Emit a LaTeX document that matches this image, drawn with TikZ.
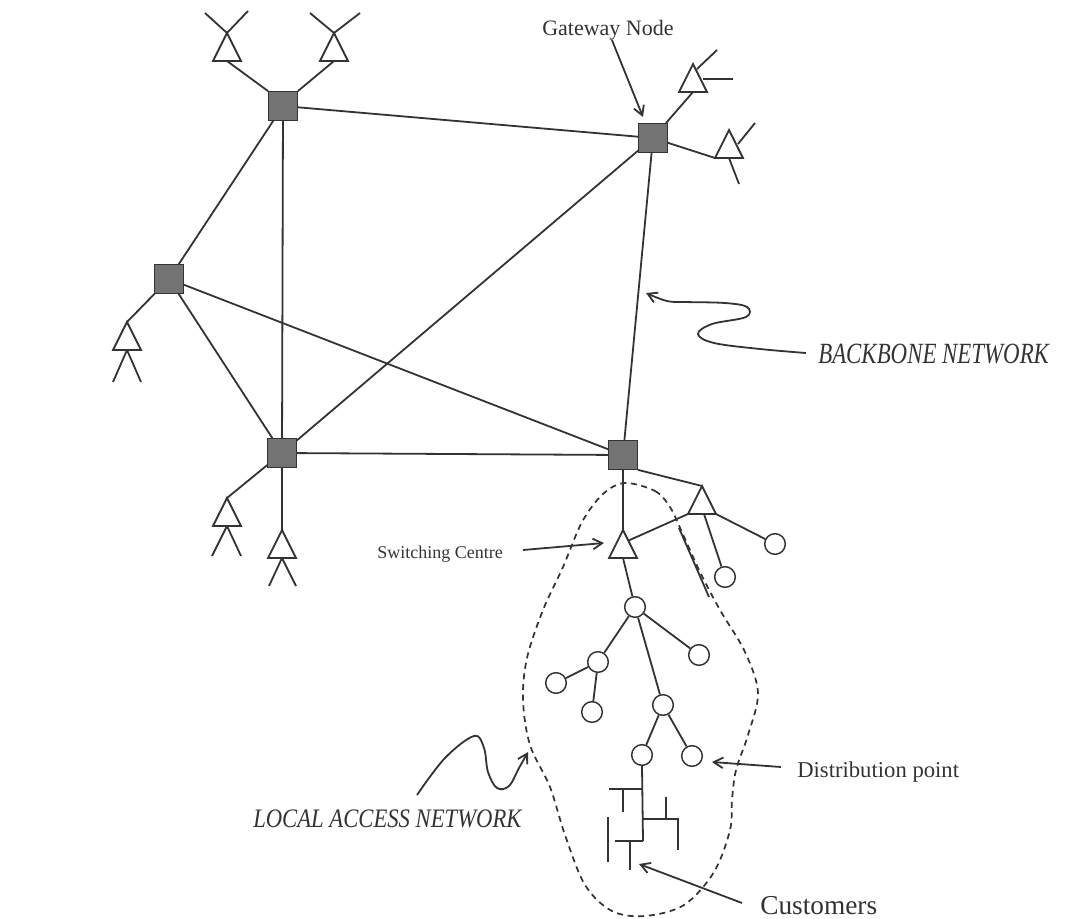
\documentclass[tikz,border=0pt]{standalone}
\usepackage{fontspec}
\usepackage{graphicx}
\setmainfont{Liberation Serif}
\usetikzlibrary{arrows.meta,calc}
\definecolor{ink}{HTML}{333333}
\definecolor{sqfill}{HTML}{737373}
\tikzset{
  sq/.style={draw=ink, fill=sqfill, minimum size=21.5pt, inner sep=0pt, line width=0.8pt},
  dp/.style={circle, draw=ink, fill=white, minimum size=15.5pt, inner sep=0pt, line width=1.1pt},
  ln/.style={draw=ink, line width=1.35pt},
  arr/.style={ln, -{Straight Barb[length=7pt,width=8pt]}},
  bound/.style={draw=ink, line width=1.3pt, dash pattern=on 4.5pt off 3.5pt},
  lab/.style={inner sep=0pt, text=ink},
  tri/.pic={\draw[ln, fill=white] (0,0) coordinate (-apex) -- (-14,28) coordinate (-bl)
      -- (14,28) coordinate (-br) -- cycle; \coordinate (-base) at (0,28);},
}
\begin{document}
\begin{tikzpicture}[x=0.75pt,y=-0.75pt]
\useasboundingbox (0,0) rectangle (1068,918);

% ---------- local access boundary ----------
\draw[bound] plot[smooth cycle, tension=0.55] coordinates {
 (625,483) (655,491) (670,507) (681,530) (700,572) (720,610) (745,652) (758,693)
 (748,735) (736,770) (732,800) (730,830) (714,872) (684,905) (645,916) (612,911)
 (585,885) (565,835) (550,787) (530,745) (523,700) (527,658) (543,610) (563,567)
 (582,522) (603,494)};
\coordinate (s1) at (679,528);
\coordinate (s2) at (709,597);
\draw[ln] (s1) -- (s2);

% ---------- backbone switching nodes ----------
\node[sq] (A)  at (283,106) {};
\node[sq] (G)  at (653,138) {};
\node[sq] (L)  at (169,279) {};
\node[sq] (B1) at (282,453) {};
\node[sq] (B2) at (623,455) {};

\draw[ln] (A) -- (G);
\draw[ln] (A) -- (L);
\draw[ln] (A) -- (B1);
\draw[ln] (L) -- (B1);
\draw[ln] (L) -- (B2);
\draw[ln] (B1) -- (G);
\draw[ln] (B1) -- (B2);
\draw[ln] (G) -- (B2);

% ---------- antennas / triangles ----------
\pic (t1) at (227,33) {tri};
\pic (t2) at (334,33) {tri};
\pic (t3) at (693,64) {tri};
\pic (t4) at (729,130) {tri};
\pic (tL) at (127,322) {tri};
\pic (tB1) at (227,498) {tri};
\pic (tB2) at (282,530) {tri};
\pic (tS) at (623,530) {tri};
\pic (tT) at (702,486) {tri};

\coordinate (a1) at (205,13);  \coordinate (a2) at (248,11);
\coordinate (a3) at (310,13);  \coordinate (a4) at (360,13);
\coordinate (a5) at (697,69);  \coordinate (a6) at (717,50);
\coordinate (a7) at (703,79);  \coordinate (a8) at (733,79);
\coordinate (a9) at (738,144); \coordinate (a10) at (755,123);
\coordinate (a11) at (739,184);
\coordinate (a12) at (113,382); \coordinate (a13) at (141,382);
\coordinate (a14) at (212,556); \coordinate (a15) at (241,556);
\coordinate (a16) at (269,586); \coordinate (a17) at (296,586);

\draw[ln] (t1-apex) -- (a1);  \draw[ln] (t1-apex) -- (a2);
\draw[ln] (t2-apex) -- (a3);  \draw[ln] (t2-apex) -- (a4);
\draw[ln] (a5) -- (a6);       \draw[ln] (a7) -- (a8);
\draw[ln] (a9) -- (a10);      \draw[ln] (t4-base) -- (a11);
\draw[ln] (tL-base) -- (a12); \draw[ln] (tL-base) -- (a13);
\draw[ln] (tB1-base) -- (a14); \draw[ln] (tB1-base) -- (a15);
\draw[ln] (tB2-base) -- (a16); \draw[ln] (tB2-base) -- (a17);

\draw[ln] (t1-base) -- (A.north west);
\draw[ln] (t2-base) -- (A.north east);
\draw[ln] (G) -- (t3-base);
\draw[ln] (G) -- (t4-bl);
\draw[ln] (L) -- (tL-apex);
\draw[ln] (B1) -- (tB1-apex);
\draw[ln] (B1) -- (tB2-apex);
\draw[ln] (B2) -- (tS-apex);
\draw[ln] (B2.south east) -- (tT-apex);
\draw[ln] ($(tS-apex)!0.38!(tS-br)$) -- (tT-bl);

% ---------- distribution points ----------
\node[dp] (R1) at (725,577) {};
\node[dp] (R2) at (775,544) {};
\node[dp] (C1) at (635,607) {};
\node[dp] (C2) at (699,655) {};
\node[dp] (C3) at (598,662) {};
\node[dp] (C4) at (556,683) {};
\node[dp] (C5) at (592,712) {};
\node[dp] (C6) at (663,705) {};
\node[dp] (C7) at (642,755) {};
\node[dp] (C8) at (692,756) {};

\draw[ln] ($(tT-base)+(2,0)$) -- (R1);
\draw[ln] (tT-br) -- (R2);
\draw[ln] (tS-base) -- (C1);
\draw[ln] (C1) -- (C2);
\draw[ln] (C1) -- (C3);
\draw[ln] (C1) -- (C6);
\draw[ln] (C3) -- (C4);
\draw[ln] (C3) -- (C5);
\draw[ln] (C6) -- (C7);
\draw[ln] (C6) -- (C8);

% ---------- customers ----------
\coordinate (m1) at (643,841);
\draw[ln] (C7.south) -- (m1);
\draw[ln] (609,789) -- (643,789);
\draw[ln] (623,789) -- (623,812);
\draw[ln] (643,819) -- (678,819) -- (678,850);
\draw[ln] (666,797) -- (666,819);
\draw[ln] (615,841) -- (m1);
\draw[ln] (630,841) -- (630,870);
\draw[ln] (608,817) -- (608,862);

% ---------- labels ----------
\node[lab, anchor=base west, font=\fontsize{16.5}{18}\selectfont] (gw) at (542,35) {Gateway Node};
\coordinate (gwtip) at (643,117);
\draw[arr] ([xshift=3pt]gw.south) -- (gwtip);

\node[lab, anchor=base east, font=\fontsize{13.5}{15}\selectfont] (sw) at (503,558) {Switching Centre};
\coordinate (swtail) at (523,550);
\coordinate (swtip) at (604,543);
\draw[arr] (swtail) -- (swtip);

\node[lab, anchor=base west] (bb) at (818,363)
  {\scalebox{0.78}[1]{\fontsize{22}{24}\selectfont\itshape BACKBONE NETWORK}};
\coordinate (bbtip) at (646,293);
\draw[arr] plot[smooth, tension=0.6] coordinates {
  (806,353) (760,349) (714,343) (698,334) (712,324) (746,317) (747,307)
  (725,303) (685,302) (667,301) (bbtip)};

\node[lab, anchor=base west] (lan) at (253,827)
  {\scalebox{0.85}[1]{\fontsize{20}{22}\selectfont\itshape LOCAL ACCESS NETWORK}};
\coordinate (lantip) at (528,752);
\draw[arr] plot[smooth, tension=0.6] coordinates {
  (417,795) (445,758) (474,736) (484,748) (488,772) (497,788) (509,786)
  (519,768) (lantip)};

\node[lab, anchor=base west, font=\fontsize{17}{19}\selectfont] (dpl) at (797,777) {Distribution point};
\coordinate (dptail) at (781,767);
\coordinate (dptip) at (712,762);
\draw[arr] (dptail) -- (dptip);

\node[lab, anchor=base west, font=\fontsize{20.5}{22}\selectfont] (cus) at (760,914) {Customers};
\coordinate (cutail) at (742,903);
\coordinate (cutip) at (639,864);
\draw[arr] (cutail) -- (cutip);
\end{tikzpicture}
\end{document}
